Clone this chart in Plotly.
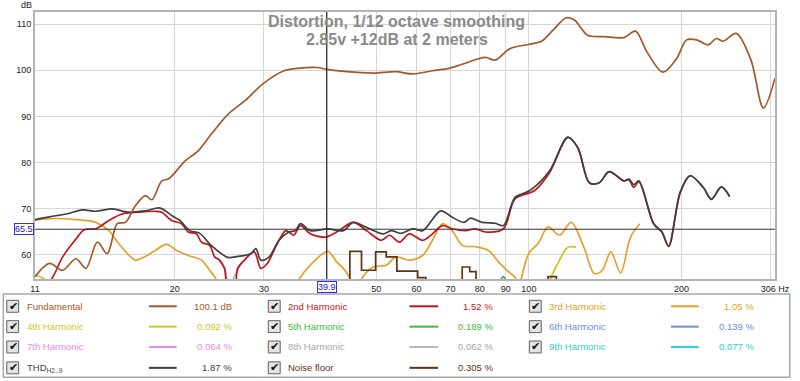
import math
import plotly.graph_objects as go

# ---------------- data ----------------
fund_f = [10.6, 11.32, 12.02, 12.77, 13.36, 14.07, 14.72, 15.40, 15.99, 16.73, 17.50, 18.03, 18.86, 19.43,
          20.02, 20.95, 22.25, 23.6, 25.45, 27.45, 29.98, 32.86, 34.87, 38.16, 39.9, 43.69, 49.27, 54.7,
          58.97, 64.53, 69.54, 73.86, 82.0, 85.8, 91.8, 99.7, 105.9, 111.6, 118.5, 123.0, 130.6, 140.8,
          154.0, 162.3, 171.0, 183.8, 195.8, 204.8, 214.3, 225.8, 234.4, 241.6, 256.6, 274.4, 290.2, 306]
fund_db = [55.2, 58.1, 56.6, 59.1, 57.0, 62.7, 60.2, 66.7, 67.0, 70.6, 72.8, 71.9, 76.0, 76.4,
           77.8, 80.3, 82.5, 86.1, 90.4, 93.3, 97.2, 99.9, 100.4, 100.6, 100.2, 99.7, 99.4, 99.7,
           99.2, 99.9, 100.4, 101.3, 102.8, 102.2, 104.7, 105.6, 106.3, 108.7, 111.4, 110.9, 107.6, 107.3,
           107.1, 108.5, 104.0, 99.6, 102.6, 106.6, 106.6, 105.5, 106.9, 106.3, 108.0, 102.2, 91.8, 98.3]

thd_f = [10.6, 11.32, 12.21, 13.15, 13.97, 15.06, 16.23, 17.50, 18.72, 19.72, 20.48, 21.42, 22.41, 23.6,
         25.45, 26.62, 28.27, 28.92, 29.58, 30.72, 32.12, 33.61, 34.62, 35.41, 37.03, 40.1, 43.04, 45.01,
         47.8, 51.55, 53.5, 55.96, 58.97, 61.7, 67.0, 70.6, 74.4, 76.7, 80.8, 85.8, 89.1, 93.9, 100.45,
         109.9, 119.3, 124.9, 131.6, 137.7, 144.0, 154.0, 157.6, 161.1, 164.8, 176.3, 183.0, 188.7, 198.9,
         208.0, 220.8, 229.2, 239.8, 249.0]
thd_db = [67.6, 68.2, 68.8, 69.7, 69.4, 69.9, 69.2, 69.5, 70.1, 68.5, 67.4, 65.2, 64.6, 62.0,
          59.4, 59.6, 60.2, 61.3, 58.8, 59.5, 63.1, 64.9, 65.2, 66.7, 65.2, 65.6, 65.2, 67.0,
          65.9, 64.5, 65.2, 64.6, 65.6, 65.2, 69.5, 68.1, 67.0, 67.9, 67.0, 66.8, 66.3, 72.4, 73.9,
          78.2, 85.5, 83.2, 75.6, 75.6, 78.0, 76.0, 76.4, 75.2, 76.0, 66.7, 64.9, 61.8, 73.5,
          77.1, 74.6, 72.0, 74.7, 72.6]

h2_f = [10.6, 11.41, 12.02, 12.77, 13.26, 13.97, 14.83, 15.75, 16.98, 18.30, 18.86, 19.72, 20.63, 21.27,
        22.08, 22.58, 23.44, 23.98, 24.53, 25.08, 25.45, 26.27, 26.62, 27.45, 28.71, 29.58, 30.48, 31.64,
        33.10, 33.61, 34.37, 35.41, 37.03, 39.62, 41.76, 45.01, 47.8, 51.15, 53.09, 55.53, 58.07, 61.7,
        64.53, 67.51, 70.6, 75.0, 78.42, 82.0, 89.1, 93.9, 102.7, 109.9, 119.3, 124.9, 131.6, 137.7,
        144.0, 154.0, 157.6, 161.1, 164.8, 176.3, 183.0, 188.7, 198.9, 208.0, 220.8, 229.2, 239.8, 249.0]
h2_db = [51.5, 54.6, 59.5, 63.4, 65.4, 65.6, 67.4, 68.8, 69.2, 69.4, 69.2, 67.4, 66.7, 64.9,
         64.5, 62.7, 62.0, 59.5, 58.8, 57.0, 53.0, 53.0, 57.0, 58.8, 60.6, 57.0, 58.1, 61.7,
         65.2, 64.9, 64.2, 66.3, 64.5, 63.8, 64.9, 67.0, 65.2, 63.1, 64.2, 62.7, 64.5, 63.1,
         64.5, 66.3, 65.6, 65.2, 65.6, 64.9, 65.6, 72.1, 73.9, 77.8, 85.4, 83.2, 75.6, 75.6,
         78.0, 76.0, 76.2, 74.6, 75.8, 66.7, 64.9, 61.8, 73.5, 77.1, 74.6, 72.0, 74.7, 72.6]

h3_f = [10.6, 11.32, 12.77, 13.97, 14.83, 15.51, 16.73, 17.50, 18.30, 19.28, 20.17, 21.27, 22.58, 23.44,
        24.15, 24.89, 33.34, 35.15, 37.03, 40.1, 41.76, 43.04, 44.33, 45.0, 46.12, 46.74, 49.27, 52.3,
        54.7, 58.07, 61.7, 64.53, 67.51, 70.6, 73.86, 78.42, 83.25, 87.1, 91.1, 94.6, 95.6, 96.8,
        100.45, 104.3, 109.1, 115.0, 121.2, 128.7, 134.6, 139.7, 145.1, 151.7, 158.7, 165.6]
h3_db = [67.4, 67.8, 67.6, 67.0, 65.2, 62.4, 58.8, 59.6, 60.9, 62.2, 60.9, 59.8, 58.8, 56.6,
         54.6, 50, 50, 54.6, 57.7, 60.7, 58.4, 57.0, 54.8, 50, 50, 54.7, 57.3, 57.7,
         59.5, 58.8, 59.8, 63.1, 66.7, 65.2, 62.0, 61.7, 60.9, 58.4, 56.3, 54.6, 50, 55.2,
         60.6, 62.4, 66.0, 64.2, 67.0, 61.3, 55.9, 56.6, 60.6, 56.0, 63.8, 66.7]

h4_f = [10.6, 11.07, 11.6, None, 108.0, 110.8, 114.1, 118.5, 120.3, 124.0]
h4_db = [55.5, 54.6, 50, None, 50, 55.2, 58.1, 61.3, 61.7, 61.6]

h5_f = [87.8, 88.4, 89.0, 89.6, 90.2]
h5_db = [53.8, 54.9, 55.2, 54.9, 53.8]

h8_f = [24.5, 25.08, 25.5, 25.7, 26.62, 27.2]
h8_db = [58.6, 57.0, 53.5, 53.5, 56.6, 58.5]

nf_f = [43.5, 44.33, 46.74, 49.84, 52.3, 54.89, 60.32, 62.6, 73.86, 76.43, 78.66, 109.1, 113.3]
nf_db = [50, 60.7, 56.6, 60.6, 59.5, 56.4, 55.0, 50, 57.3, 56.3, 50, 55.2, 50]

cursor_f = 39.9
cursor_db = 65.5

x_min, x_max = 10.6, 306
y_min, y_max = 54.7, 112.65

x_tickvals = [10.6, 20, 30, 50, 60, 70, 80, 90, 100, 200, 306]
x_ticktext = ["11", "20", "30", "50", "60", "70", "80", "90", "100", "200", "306 Hz"]
x_grid_extra = [40, 300]
y_tickvals = [60, 70, 80, 90, 100, 110]

legend_names = ["Fundamental", "2nd Harmonic", "3rd Harmonic",
                "4th Harmonic", "5th Harmonic", "6th Harmonic",
                "7th Harmonic", "8th Harmonic", "9th Harmonic",
                "THD<sub>H2..9</sub>", "Noise floor"]
legend_values = ["100.1 dB", "1.52 %", "1.05 %",
                 "0.092 %", "0.189 %", "0.139 %",
                 "0.064 %", "0.062 %", "0.077 %",
                 "1.87 %", "0.305 %"]

C_FUND = "#a3592b"
C_H2 = "#c4141c"
C_H3 = "#e8a02a"
C_H4 = "#c8c81e"
C_H5 = "#3cbc3c"
C_H6 = "#6a8fdc"
C_H7 = "#e68ae6"
C_H8 = "#b8b8b8"
C_H9 = "#30cfcf"
C_THD = "#404040"
C_NF = "#5c3418"
legend_colors = [C_FUND, C_H2, C_H3, C_H4, C_H5, C_H6, C_H7, C_H8, C_H9, C_THD, C_NF]

# ---------------- layout geometry (pixels) ----------------
W, H = 800, 381
L, R, T, B = 35, 782, 10, 279


def px(x):
    return (x - L) / (R - L)


def py(y):
    return (B - y) / (B - T)


FONT = "Liberation Sans, Arial, sans-serif"

fig = go.Figure()


def add_line(xs, ys, color, width=1.7, shape="spline"):
    fig.add_trace(go.Scatter(x=xs, y=ys, mode="lines", connectgaps=False,
                             line=dict(color=color, width=width, shape=shape,
                                       smoothing=0.9 if shape == "spline" else None),
                             hoverinfo="skip"))


add_line(h8_f, h8_db, C_H8)
add_line(h5_f, h5_db, C_H5)
add_line(h4_f, h4_db, C_H4)
add_line(h3_f, h3_db, C_H3)
add_line(nf_f, nf_db, C_NF, shape="hv")
add_line(h2_f, h2_db, C_H2)
add_line(thd_f, thd_db, C_THD)
add_line(fund_f, fund_db, C_FUND)

# cursor lines
fig.add_trace(go.Scatter(x=[cursor_f, cursor_f], y=[y_min, y_max], mode="lines",
                         line=dict(color="#111111", width=1), hoverinfo="skip"))
fig.add_trace(go.Scatter(x=[x_min, x_max], y=[cursor_db, cursor_db], mode="lines",
                         line=dict(color="#333333", width=1), hoverinfo="skip"))

annotations = []
shapes = []

# title
annotations.append(dict(x=px(400), y=py(20), xref="paper", yref="paper", showarrow=False,
                        text="<b>Distortion, 1/12 octave smoothing</b>",
                        font=dict(family=FONT, size=16, color="#8a8a8a"),
                        xanchor="center", yanchor="middle"))
annotations.append(dict(x=px(400), y=py(37.5), xref="paper", yref="paper", showarrow=False,
                        text="<b>2.85v +12dB at 2 meters</b>",
                        font=dict(family=FONT, size=16, color="#8a8a8a"),
                        xanchor="center", yanchor="middle"))
# dB unit
annotations.append(dict(x=px(26), y=py(3), xref="paper", yref="paper", showarrow=False,
                        text="dB", font=dict(family=FONT, size=9, color="#222222"),
                        xanchor="center", yanchor="middle"))
# cursor labels
annotations.append(dict(x=math.log10(cursor_f), y=py(287), xref="x", yref="paper", showarrow=False,
                        text="39.9", font=dict(family=FONT, size=9, color="#2020c0"),
                        bgcolor="white", bordercolor="#3030e0", borderwidth=1, borderpad=0,
                        xanchor="center", yanchor="middle"))
annotations.append(dict(x=px(23.5), y=cursor_db, xref="paper", yref="y", showarrow=False,
                        text="65.5", font=dict(family=FONT, size=9, color="#2020c0"),
                        bgcolor="white", bordercolor="#3030e0", borderwidth=1, borderpad=0,
                        xanchor="center", yanchor="middle"))

# legend panel
shapes.append(dict(type="rect", xref="paper", yref="paper", x0=px(3), x1=px(797), y0=py(294), y1=py(378),
                   line=dict(color="#a8a8a8", width=1.5), fillcolor="white", layer="below"))

rows = [306.5, 327, 347.5, 368.5]
cols = [dict(cb=12.5, name=25, l0=150, l1=178, val=236),
        dict(cb=276.5, name=288, l0=413, l1=442, val=499),
        dict(cb=540, name=552, l0=677, l1=705, val=763)]

for i, (nm, val, colr) in enumerate(zip(legend_names, legend_values, legend_colors)):
    r, c = divmod(i, 3)
    yc = rows[r]
    cg = cols[c]
    # checkbox
    shapes.append(dict(type="rect", xref="paper", yref="paper",
                       x0=px(cg["cb"] - 6), x1=px(cg["cb"] + 6), y0=py(yc + 6), y1=py(yc - 6),
                       line=dict(color="#606060", width=1), fillcolor="#e4e4e4"))
    annotations.append(dict(x=px(cg["cb"] + 0.5), y=py(yc), xref="paper", yref="paper", showarrow=False,
                            text="✔", font=dict(family="DejaVu Sans", size=11, color="#111111"),
                            xanchor="center", yanchor="middle"))
    name_color = "#a8a8a8" if i == 7 else colr
    annotations.append(dict(x=px(cg["name"]), y=py(yc), xref="paper", yref="paper", showarrow=False,
                            text=nm, font=dict(family=FONT, size=9.5, color=name_color),
                            xanchor="left", yanchor="middle"))
    shapes.append(dict(type="line", xref="paper", yref="paper",
                       x0=px(cg["l0"]), x1=px(cg["l1"]), y0=py(yc), y1=py(yc),
                       line=dict(color=colr, width=2)))
    annotations.append(dict(x=px(cg["val"]), y=py(yc), xref="paper", yref="paper", showarrow=False,
                            text=val, font=dict(family=FONT, size=9.5, color=name_color),
                            xanchor="right", yanchor="middle"))

fig.update_layout(
    width=W, height=H, autosize=False,
    margin=dict(l=L, r=W - R, t=T, b=H - B, pad=0),
    paper_bgcolor="white", plot_bgcolor="white",
    showlegend=False,
    font=dict(family=FONT, size=9, color="#222222"),
    annotations=annotations, shapes=shapes,
    xaxis=dict(type="log", range=[math.log10(x_min), math.log10(x_max)],
               tickvals=x_tickvals, ticktext=x_ticktext, ticks="",
               showgrid=True, gridcolor="#d6d6d6", gridwidth=1, zeroline=False,
               minor=dict(tickvals=x_grid_extra, showgrid=True, gridcolor="#d6d6d6", gridwidth=1, ticks=""),
               showline=True, mirror=True, linecolor="#b4b4b4", linewidth=2,
               tickfont=dict(family=FONT, size=9, color="#222222")),
    yaxis=dict(range=[y_min, y_max], tickvals=y_tickvals, ticks="",
               showgrid=True, gridcolor="#d6d6d6", gridwidth=1, zeroline=False,
               showline=True, mirror=True, linecolor="#b4b4b4", linewidth=2,
               tickfont=dict(family=FONT, size=9, color="#222222")),
)

fig.write_html("out.html", config={"displayModeBar": False},
               post_script="document.body.style.margin='0px';document.body.style.overflow='hidden';")
